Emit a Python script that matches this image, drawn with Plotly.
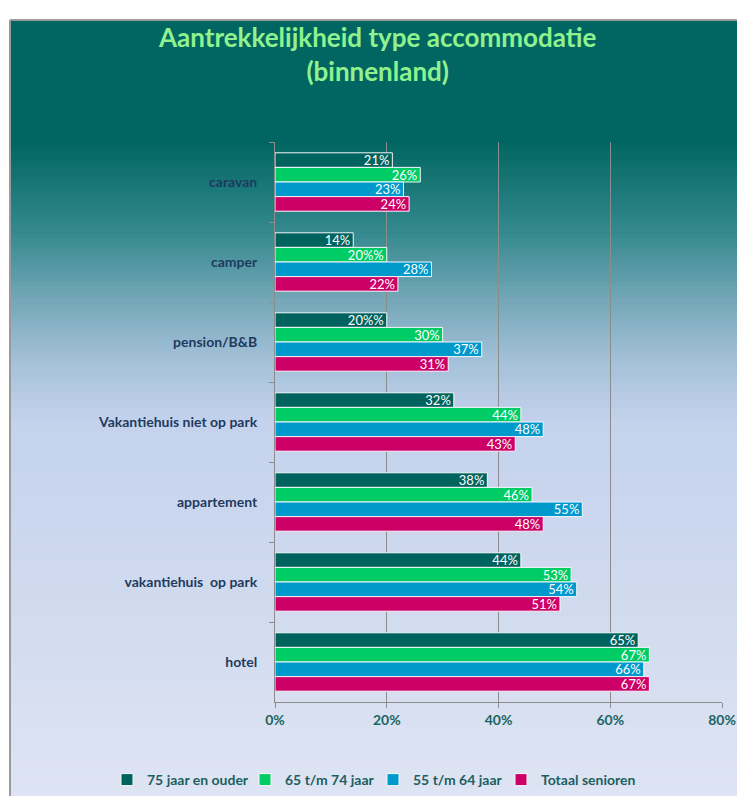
import plotly.graph_objects as go

categories = ["caravan", "camper", "pension/B&B", "Vakantiehuis niet op park",
              "appartement", "vakantiehuis  op park", "hotel"]
series_names = ["75 jaar en ouder", "65 t/m 74 jaar", "55 t/m 64 jaar", "Totaal senioren"]
v75 = [21, 14, 20, 32, 38, 44, 65]
v65 = [26, 20, 30, 44, 46, 53, 67]
v55 = [23, 28, 37, 48, 55, 54, 66]
vtot = [24, 22, 31, 43, 48, 51, 67]
series_values = [v75, v65, v55, vtot]
colors = ["#00635e", "#00cc66", "#0099cc", "#cc0066"]
x_ticks = [0, 20, 40, 60, 80]
x_tick_labels = ["0%", "20%", "40%", "60%", "80%"]

# page has an 8px body margin; work in page pixels and convert
O = 8
W, H = 745 - O, 796 - O
PL, PR, PT, PB = 275, 722, 142, 702  # plot area in page pixels
L, T = PL - O, PT - O
R = W - (PR - O)
B = H - (PB - O)
PW, PH = PR - PL, PB - PT

def px_x(x):
    return (x - PL) / PW

def px_y(y):
    return (PB - y) / PH

FONT = "Lato"
legend_ids = ["legend2", "legend3", "legend4", "legend5"]
legend_left = [107, 245, 373, 501]  # page pixels of each legend entry's left edge

fig = go.Figure()
for name, vals, col, lid in zip(series_names, series_values, colors, legend_ids):
    fig.add_trace(go.Bar(
        y=categories, x=vals, name=name, orientation="h", legend=lid,
        marker=dict(color=col, line=dict(color="#f4f8fb", width=1)),
        text=vals, texttemplate="%{x}%", textposition="inside",
        insidetextanchor="end", textangle=0,
        textfont=dict(family=FONT, size=13, color="#ffffff"),
        cliponaxis=False, showlegend=True,
    ))

def lerp(c1, c2, t):
    return "#%02x%02x%02x" % tuple(int(round(a + (b - a) * t)) for a, b in zip(c1, c2))

shapes = []
stops = [(20, (1, 102, 97)), (140, (1, 102, 97)), (230, (52, 137, 143)),
         (300, (118, 168, 186)), (360, (165, 193, 218)), (420, (196, 210, 236)),
         (796, (222, 228, 243))]
step = 4
for (y0, c0), (y1, c1) in zip(stops[:-1], stops[1:]):
    y = y0
    while y < y1:
        ye = min(y + step, y1)
        t = (y - y0) / (y1 - y0)
        shapes.append(dict(type="rect", xref="paper", yref="paper", layer="below",
                           x0=px_x(10), x1=px_x(745), y0=px_y(ye + 0.5), y1=px_y(y),
                           fillcolor=lerp(c0, c1, t), line=dict(width=0)))
        y = ye
shapes.append(dict(type="line", xref="paper", yref="paper", layer="below",
                   x0=px_x(10), x1=px_x(10), y0=px_y(796), y1=px_y(20),
                   line=dict(color="#9a9a9a", width=2)))
shapes.append(dict(type="line", xref="paper", yref="paper", layer="below",
                   x0=px_x(10), x1=px_x(745), y0=px_y(20), y1=px_y(20),
                   line=dict(color="#9a9a9a", width=2)))

legend_style = dict(orientation="h", xanchor="left", y=px_y(780), yanchor="middle",
                    bgcolor="rgba(0,0,0,0)", itemwidth=30, visible=True,
                    font=dict(family=FONT, size=14, color="#1b5f5f", weight="bold"))
legends = {lid: dict(legend_style, x=px_x(lx)) for lid, lx in zip(legend_ids, legend_left)}

fig.update_layout(
    width=W, height=H,
    margin=dict(l=L, r=R, t=T, b=B, autoexpand=False),
    paper_bgcolor="#ffffff", plot_bgcolor="rgba(0,0,0,0)",
    showlegend=True,
    barmode="group", bargap=0.27, bargroupgap=0,
    shapes=shapes,
    annotations=[dict(text="Aantrekkelijkheid type accommodatie<br>(binnenland)",
                      xref="paper", yref="paper", x=px_x(377), y=px_y(54),
                      xanchor="center", yanchor="middle", showarrow=False,
                      font=dict(family=FONT, size=26, color="#8ff28f", weight="bold"))],
    xaxis=dict(range=[0, 80], tickvals=x_ticks, ticktext=x_tick_labels,
               showgrid=True, gridcolor="#8c8c8c", gridwidth=1,
               showline=True, linecolor="#8c8c8c", linewidth=1,
               ticks="outside", ticklen=5, tickcolor="#8c8c8c", ticklabelstandoff=0,
               tickfont=dict(family=FONT, size=14, color="#1b6464", weight="bold"),
               zeroline=False, fixedrange=True),
    yaxis=dict(autorange="reversed", showline=True, linecolor="#8c8c8c", linewidth=1,
               ticks="outside", ticklen=5, tickcolor="#8c8c8c", tickson="boundaries",
               showgrid=False, ticklabelstandoff=14,
               tickfont=dict(family=FONT, size=14, color="#1f3a5f", weight="bold"),
               fixedrange=True),
    uniformtext=dict(mode="show", minsize=13),
    **legends,
)

fig.write_html("out.html")
